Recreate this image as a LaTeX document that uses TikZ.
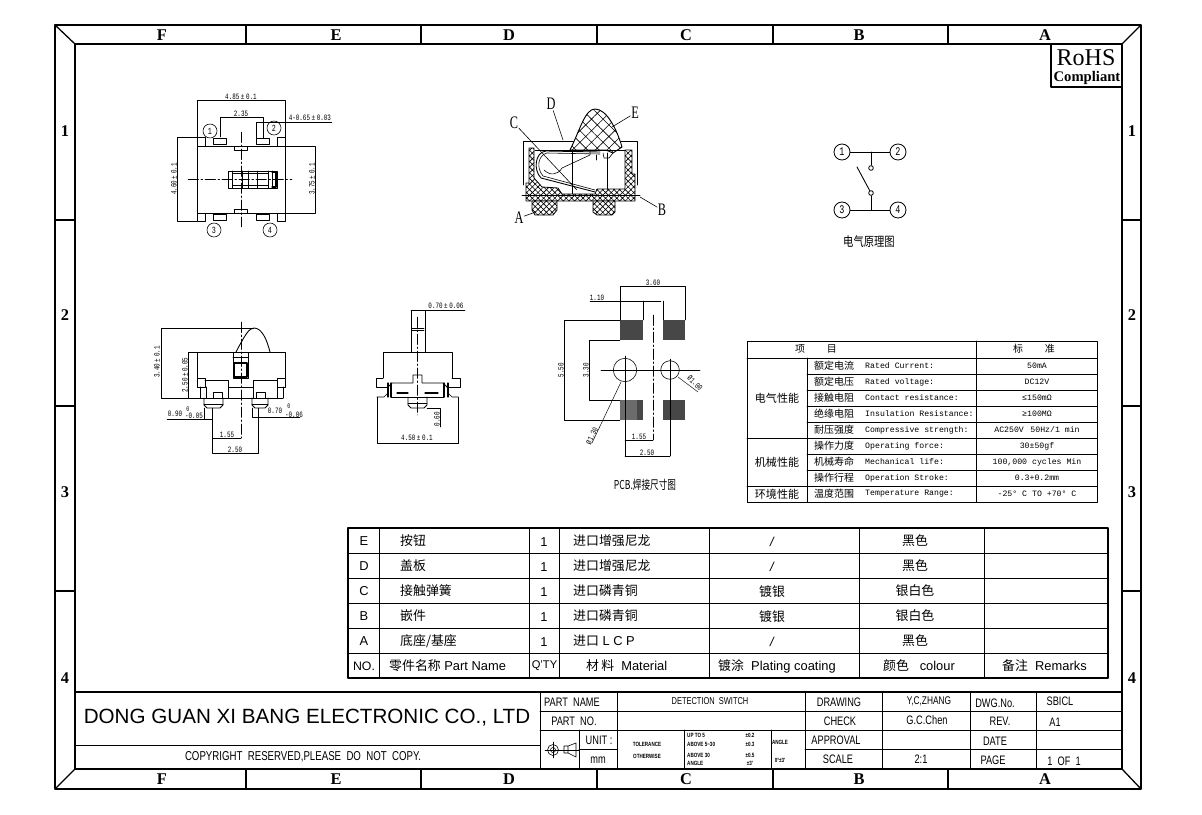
\documentclass[tikz,border=0pt]{standalone}
\usepackage{fontspec}
\setmainfont{Liberation Sans}
\newfontfamily\cjk{Noto Sans CJK SC}
\newfontfamily\cjknarrow[FakeStretch=0.7]{Noto Sans CJK SC}
\newfontfamily\cjkcap[FakeStretch=0.8]{Noto Sans CJK SC}
\newfontfamily\dimfont[FakeStretch=0.72]{Liberation Mono}
\newfontfamily\specfont{Liberation Mono}
\newfontfamily\serfont{Liberation Serif}
\newfontfamily\callfont[FakeStretch=0.7]{Liberation Serif}
\newfontfamily\cadfont[FakeStretch=0.75]{Liberation Sans}
\usetikzlibrary{patterns.meta}
\newcommand{\px}[1]{\fontsize{#1}{#1}\selectfont}
\tikzset{
  frameline/.style={line width=1.1pt},
  partline/.style={line width=0.75pt},
  thinline/.style={line width=0.5pt},
  dimline/.style={line width=0.4pt},
  centerline/.style={line width=0.4pt,dash pattern=on 9pt off 2pt on 1.5pt off 2pt},
  dimlab/.style={font=\dimfont\px{7},inner sep=0.5pt},
  speclab/.style={font=\specfont\px{7},inner sep=0pt},
  speccjk/.style={font=\cjk\px{8.5},inner sep=0pt},
  cadlab/.style={font=\cadfont\px{10.5},inner sep=0pt},
  tinylab/.style={font=\cadfont\bfseries\px{5.2},inner sep=0pt},
  edgelab/.style={font=\serfont\bfseries\px{14},inner sep=0pt},
  tablab/.style={font=\px{11},inner sep=0pt},
  tabcjk/.style={font=\cjk\px{11},inner sep=0pt},
  pinlab/.style={draw,circle,line width=0.5pt,minimum size=0.42cm,inner sep=0pt,font=\dimfont\px{8}},
  schlab/.style={draw,circle,line width=0.7pt,minimum size=0.48cm,inner sep=0pt,font=\dimfont\px{10}},
  contact/.style={draw,circle,line width=0.7pt,minimum size=0.14cm,inner sep=0pt},
  callout/.style={font=\callfont\px{15},inner sep=0.5pt},
  hatched/.style={line width=0.7pt,preaction={fill=white},pattern={Hatch[angle=45,distance=3.4pt,line width=0.55pt]}},
  hatchwide/.style={line width=0.8pt,preaction={fill=white},pattern={Hatch[angle=45,distance=7pt,line width=0.5pt]}}
}
\begin{document}
\begin{tikzpicture}[line cap=round,line join=round,x=0.03cm,y=-0.03cm]
\useasboundingbox (0,0) rectangle (1202,815);
% frame
\draw [frameline] (55,25) rectangle (1141,789);
\draw [frameline] (75,44) rectangle (1122,769);
\draw [frameline] (55,25) -- (75,44) (1141,25) -- (1122,44) (55,789) -- (75,769) (1141,789) -- (1122,769);
\foreach \x in {246,421,597,773,948}
  \draw [frameline] (\x,25) -- (\x,44) (\x,769) -- (\x,789);
\foreach \y in {220,406,591}
  \draw [frameline] (55,\y) -- (75,\y) (1122,\y) -- (1141,\y);
\foreach \t/\x in {F/162,E/336,D/509,C/686,B/859,A/1045} {
  \draw (\x,35) node[edgelab] (top\t) {\t};
  \draw (\x,779) node[edgelab] (bot\t) {\t};
}
\foreach \t/\y in {1/131,2/315,3/492,4/678} {
  \draw (65,\y) node[edgelab] (left\t) {\t};
  \draw (1132,\y) node[edgelab] (right\t) {\t};
}
% rohs
\draw [line width=1.2pt,fill=white] (1051,44) rectangle (1122,87);
\draw (1086,58) node[font=\serfont\px{20.5},inner sep=0pt] (rohs) {RoHS};
\draw (1087,78) node[font=\serfont\bfseries\px{12.5},inner sep=0pt] (compliant) {Compliant};
% top view
\draw [partline] (197,146) rectangle (285,213);
\foreach \x in {197,277} {
  \draw [partline] (\x,137) rectangle (\x+8,146);
  \draw [partline] (\x,213) rectangle (\x+8,221);
}
\foreach \x in {213,256} {
  \draw [partline] (\x,138) rectangle (\x+13,144);
  \draw [partline] (\x,214) rectangle (\x+13,220);
}
\draw [partline] (234,146) rectangle (247,150);
\draw [partline] (234,209) rectangle (247,213);
\draw [partline] (228,171) rectangle (277,188);
\draw [thinline] (232,173) rectangle (268,185);
\foreach \x in {232,242,248,257,268,272}
  \draw [thinline] (\x,171) -- (\x,188);
\draw [line width=1pt] (272,172) -- (276,172) -- (276,187) -- (272,187);
\draw [centerline] (188,179) -- (292,179);
\draw [centerline] (241,132) -- (241,227);
\draw [dimline] (197,146) -- (197,100) -- (285,100) -- (285,146);
\draw (241,97) node[dimlab] (dimW) {4.85$\,$±$\,$0.1};
\draw [dimline] (220,137) -- (220,117) -- (263,117) -- (263,138);
\draw (241,114) node[dimlab] (dimP) {2.35};
\draw [dimline] (256,138) -- (256,122) -- (332,122);
\draw (288,118) node[dimlab,anchor=west] (dimPin) {4-0.65$\,$±$\,$0.03};
\draw [dimline] (197,137) -- (177,137) -- (177,221) -- (197,221);
\draw (174,179) node[dimlab,rotate=90] (dimH) {4.60$\,$±$\,$0.1};
\draw [dimline] (285,146) -- (315,146) -- (315,213) -- (285,213);
\draw (312,179) node[dimlab,rotate=90] (dimB) {3.75$\,$±$\,$0.1};
\draw (210,131) node[pinlab] (pinA) {1};
\draw (274,128) node[pinlab] (pinB) {2};
\draw (214,230) node[pinlab] (pinC) {3};
\draw (270,230) node[pinlab] (pinD) {4};
% section view
\draw [thinline] (523,185) -- (523,141) -- (637,141) -- (637,185);
\draw [hatched] (526,201) -- (526,183) -- (529,183) -- (529,148) -- (534,148) -- (534,178) -- (542,187) -- (558,188) -- (562,194) -- (595,194) -- (597,189) -- (625,189) -- (625,150) -- (632,150) -- (632,174) -- (635,174) -- (635,201) -- cycle;
\draw [hatched] (532,201) -- (532,210) -- (535,215) -- (553,215) -- (557,210) -- (557,201) -- cycle;
\draw [hatched] (593,201) -- (593,212) -- (597,215) -- (612,215) -- (615,212) -- (615,201) -- cycle;
\draw [hatchwide] (570,150) .. controls (580,130) and (585,109) .. (595,109) .. controls (607,109) and (617,130) .. (622,147) -- (613,153) -- (606,150) -- cycle;
\draw [thinline] (522,195) -- (640,195);
\draw [thinline] (535,150) -- (625,150);
\draw [thinline] (572,151) -- (572,194) (607,153) -- (607,189);
\draw [partline] (600,152) -- (546,151) .. controls (535,152) and (533,170) .. (541,178) -- (595,192);
\draw [thinline] (600,154) -- (547,153) .. controls (538,155) and (536,168) .. (543,176) -- (595,190);
\draw [thinline] (544,170) .. controls (550,176) and (558,175) .. (562,168) -- (590,155) -- (590,150);
\draw [partline] (596,155) -- (596,160);
\draw [thinline] (603,153) -- (604,158) -- (609,158) -- (613,153);
\draw (551,104) node[callout] (lblD) {D};
\draw (514,123) node[callout] (lblC) {C};
\draw (635,113) node[callout] (lblE) {E};
\draw (662,210) node[callout] (lblB) {B};
\draw (519,218) node[callout] (lblA) {A};
\coordinate (ptD) at (563,140);
\coordinate (ptC) at (577,190);
\coordinate (ptE) at (612,127);
\coordinate (ptB) at (640,197);
\coordinate (ptA) at (533,213);
\foreach \l in {D,C,E,B,A}
  \draw [thinline] (lbl\l) -- (pt\l);
% schematic
\draw (842,152) node[schlab] (schA) {1};
\draw (898,152) node[schlab] (schB) {2};
\draw (842,210) node[schlab] (schC) {3};
\draw (898,210) node[schlab] (schD) {4};
\draw (871,168) node[contact] (conU) {};
\draw (871,193) node[contact] (conL) {};
\coordinate (juncU) at (871,152);
\coordinate (juncL) at (871,210);
\coordinate (leverEnd) at (857,167);
\draw [partline] (schA) -- (schB);
\draw [partline] (schC) -- (schD);
\draw [partline] (juncU) -- (conU);
\draw [partline] (juncL) -- (conL);
\draw [partline] (conL) -- (leverEnd);
\draw (869,242) node[font=\cjkcap\px{11},inner sep=0pt] (schCap) {电气原理图};
% side view
\draw [partline] (197,378) -- (197,352) -- (285,352) -- (285,378);
\draw [partline] (236,352) .. controls (245,335) and (249,328) .. (254,328) .. controls (262,328) and (267,340) .. (270,352);
\draw [partline] (197,378) rectangle (205,387);
\draw [partline] (277,378) rectangle (285,387);
\draw [partline] (205,380) -- (228,380) -- (228,387) -- (253,387) -- (253,380) -- (277,380);
\draw [thinline] (200,387) -- (200,398) (206,387) -- (206,398) (228,387) -- (228,398) (253,387) -- (253,398) (277,387) -- (277,398) (283,387) -- (283,398);
\draw [partline] (200,398) -- (283,398);
\draw [partline] (213,392) rectangle (222,398);
\draw [partline] (256,392) rectangle (265,398);
\draw [partline] (204,398) -- (204,405) -- (207,408) -- (220,408) -- (223,405) -- (223,398);
\draw [partline] (252,398) -- (252,405) -- (255,408) -- (265,408) -- (268,405) -- (268,398);
\draw [thinline] (204,404) -- (223,404) (252,404) -- (268,404);
\draw [thinline] (233,352) rectangle (248,378);
\draw [thinline] (233,357) -- (248,357);
\draw [line width=0.95pt] (234,363) rectangle (247,377);
\draw [centerline] (241,322) -- (241,438);
\draw [dimline] (254,328) -- (161,328) -- (161,398) -- (283,398);
\draw (157,362) node[dimlab,rotate=90] (dimTot) {3.40$\,$±$\,$0.1};
\draw [dimline] (197,352) -- (188,352) -- (188,398);
\draw (185,375) node[dimlab,rotate=90] (dimBody) {2.50$\,$±$\,$0.05};
\draw [dimline] (167,419) -- (212,419) (204,408) -- (204,419);
\draw [dimline] (252,408) -- (252,417) -- (300,417);
\draw (175,414) node[dimlab] (dimFw) {0.90};
\draw (188,409) node[dimlab,font=\dimfont\px{6}] (dimFu) {0};
\draw (194,416) node[dimlab] (dimFl) {-0.05};
\draw (275,411) node[dimlab] (dimGw) {0.70};
\draw (289,406) node[dimlab,font=\dimfont\px{6}] (dimGu) {0};
\draw (294,415) node[dimlab] (dimGl) {-0.06};
\draw [dimline] (212,408) -- (212,453) -- (258,453) -- (258,408);
\draw [line width=0.7pt] (212,419) -- (212,438) -- (241,438);
\draw (227,435) node[dimlab] (dimHa) {1.55};
\draw (235,450) node[dimlab] (dimHb) {2.50};
% front view
\draw [partline] (411,352) -- (411,310) -- (425,310) -- (425,352);
\draw [partline] (412,328) -- (424,328);
\draw [thinline] (412,330) -- (424,330);
\draw [partline] (383,378) -- (383,352) -- (452,352) -- (452,378);
\draw [partline] (383,378) -- (376,378) -- (376,387) -- (388,387) (452,378) -- (460,378) -- (460,387) -- (447,387);
\draw [partline] (388,387) -- (392,383) -- (413,383) -- (413,375) -- (422,375) -- (422,383) -- (443,383) -- (447,387);
\draw [line width=1pt] (388,383) -- (388,397) (391,383) -- (391,397) (444,383) -- (444,397) (448,383) -- (448,397);
\draw [thinline] (391,397) -- (444,397);
\draw [line width=1.1pt] (397,393) -- (408,393) (425,393) -- (438,393);
\draw [partline] (408,397) -- (408,405) -- (411,408) -- (424,408) -- (427,405) -- (427,397);
\draw [thinline] (408,403) -- (427,403);
\draw [thinline] (377,397) -- (384,397) -- (388,393) (458,397) -- (452,397) -- (448,393);
\draw [centerline] (417,317) -- (417,415);
\draw [dimline] (411,310) -- (465,310);
\draw (446,306) node[dimlab] (dimStem) {0.70$\,$±$\,$0.06};
\draw [dimline] (377,397) -- (377,443) -- (458,443) -- (458,397);
\draw (417,438) node[dimlab] (dimFoot) {4.50$\,$±$\,$0.1};
\draw [dimline] (427,408) -- (440,408) -- (440,427);
\draw (437,419) node[dimlab,rotate=90] (dimGap) {0.60};
% pcb view
\foreach \x/\w in {620/23,663/22} {
  \fill [black!72] (\x,320) rectangle (\x+\w,340);
  \fill [black!72] (\x,400) rectangle (\x+\w,420);
}
\fill [black!58] (620,400) rectangle (637,420);
\draw [dimline] (620,320) -- (620,286) -- (685,286) -- (685,320);
\draw (653,283) node[dimlab] (dimPa) {3.60};
\draw [dimline] (590,301) -- (661,301) (643,301) -- (643,320) (663,301) -- (663,320);
\draw (597,298) node[dimlab] (dimPb) {1.10};
\draw [dimline] (620,320) -- (564,320) -- (564,420) -- (620,420);
\draw (561,370) node[dimlab,rotate=90] (dimPc) {5.50};
\draw [dimline] (620,340) -- (589,340) -- (589,400) -- (620,400);
\draw (586,370) node[dimlab,rotate=90] (dimPd) {3.30};
\draw [thinline] (625,370) circle (11.7);
\draw [thinline] (670,370) circle (9.3);
\draw [thinline] (601,370) -- (700,370);
\draw [dimline] (625,356) -- (625,456) (670,359) -- (670,456);
\draw [centerline] (653,315) -- (653,440);
\draw [dimline] (625,440) -- (653,440) (625,456) -- (670,456);
\draw (639,437) node[dimlab] (dimPe) {1.55};
\draw (647,453) node[dimlab] (dimPf) {2.50};
\draw [dimline] (621,382) -- (592,443);
\draw (592,436) node[dimlab,rotate=64] (dimPg) {Ø1.30};
\draw [dimline] (678,377) -- (698,392);
\draw (695,383) node[dimlab,rotate=-45] (dimPh) {Ø1.00};
\draw (645,485) node[font=\cjknarrow\px{10.5},inner sep=0pt] (pcbCap) {PCB.焊接尺寸图};
% spec table
\draw [line width=0.8pt] (747,341) rectangle (1097,502);
\draw [partline] (976,341) -- (976,502) (747,358) -- (1097,358) (807,358) -- (807,502) (747,438) -- (807,438) (747,486) -- (807,486);
\foreach \y in {374,390,406,422,438,454,470,486}
  \draw [partline] (807,\y) -- (1097,\y);
\draw (816,349) node[speccjk] (hdItem) {项\hspace{2.2em}目};
\draw (1034,349) node[speccjk] (hdStd) {标\hspace{2.2em}准};
\draw (777,398) node[speccjk,font=\cjk\px{9.4}] (grpE) {电气性能};
\draw (777,462) node[speccjk,font=\cjk\px{9.4}] (grpM) {机械性能};
\draw (777,494) node[speccjk,font=\cjk\px{9.4}] (grpT) {环境性能};
\foreach \i/\y/\cn/\en/\val in {a/366/额定电流/Rated Current:/50mA,
  b/382/额定电压/Rated voltage:/DC12V,
  c/398/接触电阻/Contact resistance:/≤150mΩ,
  d/414/绝缘电阻/Insulation Resistance:/≥100MΩ,
  e/430/耐压强度/Compressive strength:/{AC250V\hspace{0.8em}50Hz/1 min},
  f/446/操作力度/Operating force:/30±50gf,
  g/462/机械寿命/Mechanical life:/{100,000 cycles Min},
  h/478/操作行程/Operation Stroke:/0.3+0.2mm,
  k/494/温度范围/Temperature Range:/-25° C TO +70° C} {
  \draw (814,\y) node[speccjk,anchor=west] (cn\i) {\cn};
  \draw (865,\y) node[speclab,anchor=west] (en\i) {\en};
  \draw (1037,\y) node[speclab] (val\i) {\val};
}
% parts table
\draw [frameline] (348,528) rectangle (1108,678);
\foreach \y in {553,578,603,628,653}
  \draw [line width=0.85pt] (348,\y) -- (1108,\y);
\foreach \x in {379,529,559,709,859,984}
  \draw [line width=0.85pt] (\x,528) -- (\x,678);
\foreach \n/\y/\nm/\mat/\pl/\col in {E/541/按钮/进口增强尼龙/{\rmfamily\itshape /}/黑色,
  D/566/盖板/进口增强尼龙/{\rmfamily\itshape /}/黑色,
  C/591/接触弹簧/进口磷青铜/镀银/银白色,
  B/616/嵌件/进口磷青铜/镀银/银白色,
  A/641/{底座/基座}/{进口{\rmfamily\ L C P}}/{\rmfamily\itshape /}/黑色} {
  \draw (364,\y) node[tablab] (no\n) {\n};
  \draw (400,\y) node[tabcjk,anchor=west] (nm\n) {\nm};
  \draw (544,\y+1) node[tablab] (qty\n) {1};
  \draw (573,\y) node[tabcjk,anchor=west] (mat\n) {\mat};
  \draw (772,\y+1) node[tabcjk] (pl\n) {\pl};
  \draw (915,\y) node[tabcjk] (col\n) {\col};
}
\draw (364,666) node[tablab,font=\px{10.5}] (hdNo) {NO.};
\draw (389,666) node[tabcjk,anchor=west] (hdName) {零件名称{\rmfamily\ Part Name}};
\draw (544.5,666) node[tablab,font=\px{9.5}] (hdQty) {Q'TY};
\draw (586,666) node[tabcjk,anchor=west] (hdMat) {材\,料{\rmfamily\ \ Material}};
\draw (718,666) node[tabcjk,anchor=west] (hdPl) {镀涂{\rmfamily\ \ Plating coating}};
\draw (883,666) node[tabcjk,anchor=west] (hdCol) {颜色{\rmfamily\ \ \ colour}};
\draw (1002,666) node[tabcjk,anchor=west] (hdRem) {备注{\rmfamily\ \ Remarks}};
% title block
\draw [frameline] (75,692) -- (1122,692);
\draw [partline] (75,745) -- (540,745);
\draw [partline] (540,692) -- (540,769) (617,692) -- (617,769) (805,692) -- (805,769) (882,692) -- (882,769) (970,692) -- (970,769) (1036,692) -- (1036,769);
\draw [partline] (540,711) -- (1122,711) (540,730) -- (1122,730) (805,749) -- (1122,749) (579,730) -- (579,769) (579,749) -- (617,749) (684,730) -- (684,769) (771,730) -- (771,769);
\draw (307,718) node[font=\px{17.6},inner sep=0pt] (company) {DONG GUAN XI BANG ELECTRONIC CO., LTD};
\draw (303,757) node[cadlab,font=\cadfont\px{11}] (copy) {COPYRIGHT\ \ RESERVED,PLEASE\ \ DO\ \ NOT\ \ COPY.};
\foreach \t/\x/\y/\s in {PART\ \ NAME/572/702/pa,PART\ \ NO./574/721/pb,UNIT\ :/599/740/pc,mm/598/760/pd,
  DRAWING/839/702/dr,CHECK/840/721/ch,APPROVAL/836/740/ap,SCALE/838/759/sc,
  G.C.Chen/927/720/gc,2:1/921/759/ra,DWG.No./995/703/dw,REV./1000/721/re,DATE/995/741/da,PAGE/993/760/pg,
  SBICL/1060/701/sb,A1/1055/722/av,1\ \ OF\ \ 1/1064/761/of}
  \draw (\x,\y) node[cadlab] (tb\s) {\t};
\draw (710,701) node[cadlab,font=\cadfont\px{8.5}] (tbPart) {DETECTION\ \ SWITCH};
\draw (929,701) node[cadlab,font=\cadfont\px{9.5}] (tbDraw) {Y,C,ZHANG};
% projection symbol
\draw [thinline] (553,750) circle (5.5);
\draw [thinline] (553,750) circle (2.5);
\draw [dimline] (545,750) -- (579,750) (553,742) -- (553,758);
\draw [thinline] (564,746) -- (568,746) -- (576,743) -- (576,757) -- (568,753) -- (564,753) -- cycle (568,746) -- (568,753);
% tolerance
\foreach \t/\x/\y/\s in {TOLERANCE/647/744/ta,OTHERWISE/647/756/tb,ANGLE/780/742/tc,0°±3'/780/760/td}
  \draw (\x,\y) node[tinylab] (tol\s) {\t};
\foreach \t/\v/\y/\s in {UP TO 5/±0.2/735/ra,ABOVE 5\textasciitilde30/±0.3/744/rb,ABOVE 30/±0.5/755/rc,ANGLE/±3'/763/rd} {
  \draw (687,\y) node[tinylab,anchor=west] (tol\s) {\t};
  \draw (750,\y) node[tinylab] (val\s) {\v};
}
\end{tikzpicture}
\end{document}
